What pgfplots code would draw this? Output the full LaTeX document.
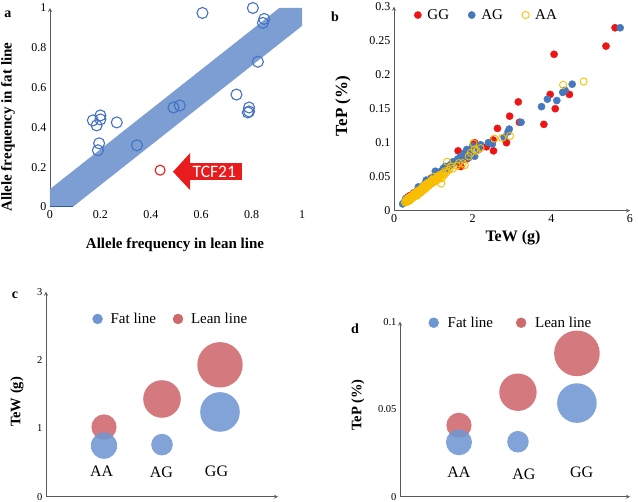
\documentclass[border=0pt]{standalone}
\usepackage{pgfplots}
\pgfplotsset{compat=1.18}
\usepackage{fontspec}
\setmainfont{Liberation Serif}
\newfontfamily\calibri{Carlito}

\definecolor{band}{RGB}{124,158,210}
\definecolor{circblue}{RGB}{68,114,196}
\definecolor{tcfred}{RGB}{232,28,28}
\definecolor{ggred}{RGB}{238,20,20}
\definecolor{agblue}{RGB}{70,120,190}
\definecolor{aagold}{RGB}{250,190,0}
\definecolor{fatblue}{RGB}{112,150,210}
\definecolor{leanred}{RGB}{206,104,108}
\definecolor{axgray}{RGB}{90,90,90}

\pgfplotsset{
  common/.style={scale only axis,
    /pgf/number format/assume math mode=true,
    /pgf/number format/fixed,
    axis line style={axgray, line width=0.8pt, -},
    major tick length=0pt,
    tick label style={font=\fontsize{12}{12}\selectfont},
    clip=false},
  bub/.style={only marks, mark=*, forget plot, mark size=#1,
    mark options={line width=0pt, draw opacity=0, fill opacity=0.88}},
}

\begin{document}
\begin{tikzpicture}[x=1pt,y=1pt]
\useasboundingbox (0,0) rectangle (638,502);

% ---------------- panel a
\begin{axis}[common, at={(50pt,295pt)}, anchor=south west,
  width=252pt, height=199pt, xmin=0, xmax=1, ymin=0, ymax=1,
  axis x line=bottom, axis y line=left, x axis line style={draw=none},
  xtick={0,0.2,0.4,0.6,0.8,1}, ytick={0,0.2,0.4,0.6,0.8,1}]
\addplot[fill=band, draw=none] coordinates {(0,0) (0.09,0) (1,0.91) (1,1) (0.91,1) (0,0.09)} -- cycle;
\addplot[draw=circblue!80!black, line width=1pt] coordinates {(0,0) (0.09,0)};
\addplot[only marks, mark=o, mark size=5.5pt, mark options={circblue, line width=1.1pt}] coordinates {
(0.605,0.975) (0.805,1.0) (0.85,0.945) (0.845,0.925) (0.825,0.73)
(0.74,0.565) (0.79,0.50) (0.785,0.475) (0.79,0.48) (0.49,0.50)
(0.515,0.51) (0.345,0.31) (0.265,0.425) (0.17,0.435) (0.185,0.41)
(0.2,0.46) (0.2,0.44) (0.195,0.32) (0.19,0.285)};
\addplot[only marks, mark=o, mark size=5pt, mark options={tcfred, line width=1.1pt}] coordinates {(0.437,0.185)};
\fill[tcfred] (axis cs:0.488,0.177) -- (axis cs:0.556,0.271) -- (axis cs:0.556,0.22) -- (axis cs:0.761,0.22) -- (axis cs:0.761,0.136) -- (axis cs:0.556,0.136) -- (axis cs:0.556,0.085) -- cycle;
\node[white, font=\calibri\fontsize{17.5}{17.5}\selectfont] at (axis cs:0.652,0.178) {TCF21};
\end{axis}

% ---------------- panel b
\begin{axis}[common, at={(394pt,291.3pt)}, anchor=south west,
  width=236pt, height=204pt, xmin=0, xmax=6, ymin=0, ymax=0.3,
  axis x line=bottom, axis y line=left,
  xtick={0,2,4,6}, ytick={0,0.05,0.1,0.15,0.2,0.25,0.3},
  legend columns=3,
  legend style={draw=none, fill=none, at={(0.085,0.959)}, anchor=west,
    font=\fontsize{15}{15}\selectfont, inner sep=0pt,
    /tikz/every odd column/.append style={column sep=4pt},
    /tikz/every even column/.append style={column sep=17pt}}]
\addplot[only marks, mark=*, mark size=3.6pt, mark options={draw=ggred, fill=ggred}] coordinates {
(5.62,0.269) (5.39,0.242) (4.07,0.230) (3.97,0.171) (4.46,0.171) (4.10,0.150)
(3.81,0.127) (3.16,0.160) (3.19,0.130) (2.94,0.139) (2.63,0.121) (2.86,0.100)
(2.53,0.088) (2.52,0.104) (1.63,0.088) (1.85,0.076) (2.20,0.095) (1.50,0.070)
(1.30,0.062) (1.10,0.055) (0.95,0.048) (0.80,0.040) (0.65,0.033) (0.50,0.026)
(0.40,0.022) (0.35,0.020) (0.30,0.016) (1.70,0.065) (2.35,0.094) (2.05,0.100)};
\addlegendentry{GG}
\addplot[only marks, mark=*, mark size=3.6pt, mark options={draw=agblue, fill=agblue}] coordinates {
(0.22,0.010) (0.25,0.012) (0.30,0.014) (0.35,0.017) (0.40,0.020) (0.45,0.022)
(0.50,0.025) (0.55,0.027) (0.60,0.030) (0.65,0.032) (0.70,0.034) (0.75,0.037)
(0.80,0.040) (0.85,0.042) (0.90,0.045) (0.95,0.047) (1.00,0.050) (1.05,0.052)
(1.10,0.054) (1.15,0.056) (1.20,0.058) (1.25,0.062) (1.30,0.065) (1.35,0.060)
(1.45,0.068) (1.50,0.072) (1.55,0.070) (1.70,0.080) (1.75,0.075) (1.80,0.085)
(1.85,0.090) (1.90,0.078) (2.00,0.095) (2.05,0.080) (2.15,0.090) (2.40,0.100)
(2.50,0.098) (2.80,0.108) (2.90,0.116) (2.93,0.120) (3.23,0.130) (3.75,0.153)
(3.90,0.164) (4.14,0.162) (4.29,0.174) (4.35,0.177) (4.53,0.186) (5.75,0.269)
(0.62,0.035) (0.72,0.030) (0.82,0.045) (0.95,0.040) (1.05,0.058) (0.40,0.015) (0.30,0.018)
(1.62,0.076) (1.95,0.088) (2.20,0.097) (1.40,0.066)};
\addlegendentry{AG}
\addplot[only marks, mark=o, mark size=3.6pt, mark options={draw=aagold, line width=0.9pt}] coordinates {
(0.30,0.013) (0.32,0.015) (0.35,0.016) (0.38,0.017) (0.40,0.019) (0.42,0.018)
(0.45,0.021) (0.47,0.020) (0.50,0.023) (0.52,0.022) (0.55,0.025) (0.57,0.024)
(0.60,0.027) (0.62,0.026) (0.65,0.029) (0.67,0.030) (0.70,0.031) (0.72,0.029)
(0.75,0.034) (0.77,0.033) (0.80,0.036) (0.82,0.035) (0.85,0.038) (0.88,0.040)
(0.90,0.039) (0.92,0.042) (0.95,0.043) (0.98,0.041) (1.00,0.045) (1.03,0.046)
(1.05,0.044) (1.08,0.048) (1.10,0.050) (1.12,0.047) (1.15,0.052) (1.18,0.053)
(1.20,0.040) (1.25,0.055) (1.30,0.058) (1.35,0.072) (1.40,0.060) (1.45,0.065)
(1.60,0.066) (1.75,0.070) (1.80,0.067) (1.95,0.085) (2.02,0.099) (2.10,0.088)
(2.20,0.092) (2.55,0.106) (2.75,0.107) (2.95,0.110) (4.30,0.185) (4.82,0.190)
(0.28,0.012) (0.36,0.018) (0.44,0.019) (0.53,0.024) (0.63,0.028) (0.74,0.032)
(0.86,0.036) (0.96,0.045) (0.58,0.022) (0.68,0.027) (0.79,0.038) (1.02,0.050)
(1.22,0.048) (0.50,0.020) (0.40,0.016) (0.90,0.042) (1.10,0.045) (1.28,0.053)
(0.33,0.014) (0.48,0.022) (0.61,0.029) (0.73,0.035) (0.84,0.040) (0.97,0.044)
(0.31,0.016) (0.34,0.013) (0.37,0.019) (0.39,0.015) (0.43,0.021) (0.46,0.018)
(0.49,0.024) (0.51,0.021) (0.54,0.026) (0.56,0.023) (0.59,0.028) (0.64,0.025)
(0.66,0.031) (0.69,0.028) (0.71,0.033) (0.76,0.031) (0.78,0.036) (0.81,0.033)
(0.83,0.038) (0.87,0.039) (0.89,0.037) (0.93,0.040) (0.99,0.046) (1.04,0.043)
(1.07,0.047) (1.13,0.050) (1.17,0.049) (1.24,0.052) (1.33,0.056) (1.50,0.062)
(1.65,0.070) (1.90,0.080) (2.05,0.090)};
\addlegendentry{AA}
\end{axis}

% ---------------- panel c
\begin{axis}[common, at={(46pt,5.3pt)}, anchor=south west,
  width=232pt, height=205pt, xmin=0, xmax=4, ymin=0, ymax=3,
  axis x line=bottom, axis y line=left,
  xtick=\empty, ytick={0,1,2,3},
  tick label style={font=\fontsize{10.5}{10.5}\selectfont},
  legend columns=2,
  legend style={draw=none, fill=none, at={(0.2,0.867)}, anchor=west,
    font=\fontsize{15}{15}\selectfont, inner sep=0pt,
    /tikz/every odd column/.append style={column sep=6pt},
    /tikz/every even column/.append style={column sep=15pt}}]
\addlegendimage{only marks, mark=*, mark size=5pt, mark options={draw=fatblue, fill=fatblue}}
\addlegendentry{Fat line}
\addlegendimage{only marks, mark=*, mark size=5pt, mark options={draw=leanred, fill=leanred}}
\addlegendentry{Lean line}
\addplot[bub=12.6pt, leanred] coordinates {(1,1.02)};
\addplot[bub=18.8pt, leanred] coordinates {(2,1.43)};
\addplot[bub=22.7pt, leanred] coordinates {(3,1.93)};
\addplot[bub=13.2pt, fatblue] coordinates {(1,0.747)};
\addplot[bub=10.8pt, fatblue] coordinates {(2,0.762)};
\addplot[bub=19.8pt, fatblue] coordinates {(3,1.24)};
\node[font=\fontsize{16}{16}\selectfont] at (axis cs:0.96,0.366) {AA};
\node[font=\fontsize{16}{16}\selectfont] at (axis cs:1.99,0.35) {AG};
\node[font=\fontsize{16}{16}\selectfont] at (axis cs:2.94,0.366) {GG};
\end{axis}

% ---------------- panel d
\begin{axis}[common, at={(400pt,5.3pt)}, anchor=south west,
  width=230pt, height=175pt, xmin=0, xmax=3.9, ymin=0, ymax=0.1,
  axis x line=bottom, axis y line=left,
  xtick=\empty, ytick={0,0.05,0.1},
  tick label style={font=\fontsize{10.5}{10.5}\selectfont},
  legend columns=2,
  legend style={draw=none, fill=none, at={(0.124,0.994)}, anchor=west,
    font=\fontsize{15}{15}\selectfont, inner sep=0pt,
    /tikz/every odd column/.append style={column sep=7pt},
    /tikz/every even column/.append style={column sep=21pt}}]
\addlegendimage{only marks, mark=*, mark size=5pt, mark options={draw=fatblue, fill=fatblue}}
\addlegendentry{Fat line}
\addlegendimage{only marks, mark=*, mark size=5pt, mark options={draw=leanred, fill=leanred}}
\addlegendentry{Lean line}
\addplot[bub=12.6pt, leanred] coordinates {(1,0.0408)};
\addplot[bub=18.7pt, leanred] coordinates {(2,0.0597)};
\addplot[bub=22.8pt, leanred] coordinates {(3,0.0819)};
\addplot[bub=13pt, fatblue] coordinates {(1,0.0311)};
\addplot[bub=10.8pt, fatblue] coordinates {(2,0.0314)};
\addplot[bub=19.8pt, fatblue] coordinates {(3,0.0535)};
\node[font=\fontsize{16}{16}\selectfont] at (axis cs:1.0,0.0137) {AA};
\node[font=\fontsize{16}{16}\selectfont] at (axis cs:2.1,0.013) {AG};
\node[font=\fontsize{16}{16}\selectfont] at (axis cs:3.08,0.0137) {GG};
\end{axis}

% ---------------- outside labels
\node[font=\bfseries\fontsize{14}{14}\selectfont] at (8,488) {a};
\node[rotate=90, font=\bfseries\fontsize{15}{15}\selectfont] at (8,375) {Allele frequency in fat line};
\node[font=\bfseries\fontsize{15}{15}\selectfont] at (175,257) {Allele frequency in lean line};
\node[font=\bfseries\fontsize{14}{14}\selectfont] at (335,485) {b};
\node[rotate=90, font=\bfseries\fontsize{17}{17}\selectfont] at (343,396) {TeP (\%)};
\node[font=\bfseries\fontsize{16}{16}\selectfont] at (513,264) {TeW (g)};
\node[font=\bfseries\fontsize{14}{14}\selectfont] at (15,207) {c};
\node[rotate=90, font=\bfseries\fontsize{14.5}{14.5}\selectfont] at (17,100) {TeW (g)};
\node[font=\bfseries\fontsize{14}{14}\selectfont] at (355,173) {d};
\node[rotate=90, font=\bfseries\fontsize{14.5}{14.5}\selectfont] at (358,97) {TeP (\%)};
\end{tikzpicture}
\end{document}
